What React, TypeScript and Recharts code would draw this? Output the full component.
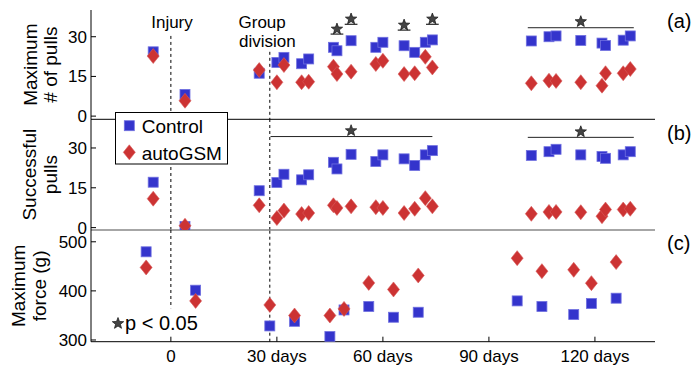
import { ReferenceLine, Scatter, ScatterChart, XAxis, YAxis } from 'recharts'

const BLUE = '#3434cc'
const RED = '#cc3333'
const FONT = '"Liberation Sans", Arial, Helvetica, sans-serif'

// sessions of reaching (panels a and b), days from injury
const pullDays = [-5, 4, 25, 30, 32, 37, 39, 46, 47, 51, 58, 60, 66, 69, 72, 74, 102, 107, 109, 116, 122, 123, 128, 130]
const controlMaxPulls = [24.3, 8.2, 16.2, 20.3, 22.2, 19.8, 21.6, 26.0, 24.7, 28.5, 26.0, 27.9, 26.6, 24.1, 27.9, 28.8, 28.4, 30.0, 30.3, 28.6, 27.6, 26.7, 28.7, 30.3]
const gsmMaxPulls = [22.7, 5.8, 17.4, 12.8, 19.3, 12.8, 13.0, 18.7, 15.9, 16.8, 19.7, 20.9, 15.9, 16.2, 22.4, 18.4, 12.4, 13.4, 13.3, 12.8, 11.5, 16.2, 16.2, 17.8]
const controlSuccess = [17.1, 0.4, 13.9, 17.0, 20.1, 18.0, 19.9, 24.6, 22.1, 27.6, 24.9, 27.4, 25.9, 23.4, 27.4, 29.0, 27.2, 28.6, 29.5, 27.4, 26.8, 26.1, 27.4, 28.6]
const gsmSuccess = [10.9, 0.7, 8.4, 3.6, 6.4, 5.1, 5.5, 8.4, 7.4, 8.0, 7.7, 7.4, 5.5, 7.1, 11.1, 8.0, 5.2, 5.9, 5.9, 5.8, 4.3, 6.8, 6.8, 7.1]

// force sessions (panel c)
const forceDays = [-7, 7, 28, 35, 45, 49, 56, 63, 70, 98, 105, 114, 119, 126]
const controlForce = [479.6, 401.4, 328.6, 338, 307, 361.2, 368.2, 346.3, 356.5, 379.6, 368.2, 351.8, 374.3, 385.1]
const gsmForce = [447.8, 379.6, 371.4, 349.8, 349.8, 363.3, 416.3, 402.9, 431.4, 466.7, 440.2, 442.9, 415.7, 458.6]

const dayTicks = [0, 30, 60, 90, 120]
const pullTicks = [0, 15, 30]
const forceTicks = [300, 400, 500]

// p < 0.05 markers
const sigDaysA = [47, 51, 66, 74]
const sigStarA = [32.9, 36.7, 34.4, 36.7]
const sigBarA = [31.0, 34.7, 32.5, 34.7]
const spansA = [{ from: 101, to: 131, y: 33.4, star: 116, starY: 35.7 }]
const spansB = [
  { from: 28.2, to: 74, y: 34.3, star: 51, starY: 36.5 },
  { from: 101, to: 131, y: 34.0, star: 116, starY: 36.1 },
]

const X_DOMAIN = [-22.6, 137]

const toPts = (xs: number[], ys: number[]) => xs.map((x, i) => ({ x, y: ys[i] }))

const starPoints = (cx: number, cy: number, r: number) => {
  const pts: string[] = []
  for (let i = 0; i < 10; i++) {
    const rad = i % 2 === 0 ? r : r * 0.42
    const a = -Math.PI / 2 + (i * Math.PI) / 5
    pts.push(`${cx + rad * Math.cos(a)},${cy + rad * Math.sin(a)}`)
  }
  return pts.join(' ')
}

const square = (p: any) => (
  <rect x={p.cx - 5} y={p.cy - 5} width={10} height={10} fill={BLUE} stroke="#7070e0" strokeWidth={0.8} />
)
const diamond = (p: any) => (
  <polygon
    points={`${p.cx},${p.cy - 7.5} ${p.cx + 6},${p.cy} ${p.cx},${p.cy + 7.5} ${p.cx - 6},${p.cy}`}
    fill={RED}
    stroke="#d85a5a"
    strokeWidth={0.6}
  />
)
const star = (p: any) => <polygon points={starPoints(p.cx, p.cy, 6)} fill="#444" stroke="#111" strokeWidth={0.7} />

function AxisTitle({ viewBox, lines, xs }: { viewBox?: any; lines: string[]; xs: number[] }) {
  const cy = viewBox ? viewBox.y + viewBox.height / 2 : 60
  return (
    <g>
      {lines.map((t, i) => (
        <text key={t} transform={`translate(${xs[i]},${cy}) rotate(-90)`} textAnchor="middle" fontSize={19} fill="#000">
          {t}
        </text>
      ))}
    </g>
  )
}

const yAxisCommon = {
  type: 'number' as const,
  dataKey: 'y',
  allowDataOverflow: true,
  width: 50,
  tickSize: -5,
  tickMargin: 9,
  interval: 0 as const,
  tick: { fontSize: 17, fill: '#000' },
  axisLine: { stroke: '#000' },
  tickLine: { stroke: '#000' },
}

const dashed = { stroke: '#000', strokeDasharray: '3 3', strokeWidth: 1 }

export default function App() {
  const margin = { right: 44, left: 41 }
  return (
    <div style={{ position: 'absolute', left: 0, top: 0, width: 699, height: 371, background: '#fff', fontFamily: FONT }}>
      {/* (a) maximum number of pulls */}
      <div style={{ position: 'absolute', left: 0, top: 0 }}>
        <ScatterChart width={699} height={130} margin={{ ...margin, top: 10, bottom: 9.7 }}>
          <XAxis type="number" dataKey="x" domain={X_DOMAIN} allowDataOverflow height={1} tick={false} tickLine={false} axisLine={{ stroke: '#000' }} />
          <YAxis
            {...yAxisCommon}
            domain={[-1.2, 40.1]}
            ticks={pullTicks}
            label={{ content: (pr: any) => <AxisTitle viewBox={pr.viewBox} lines={['Maximum', '# of pulls']} xs={[36.5, 57]} /> }}
          />
          <ReferenceLine segment={[{ x: 0, y: 30.3 }, { x: 0, y: -1.2 }]} {...dashed} />
          <ReferenceLine segment={[{ x: 28, y: 24.3 }, { x: 28, y: -1.2 }]} {...dashed} />
          {sigDaysA.map((d, i) => (
            <ReferenceLine key={d} segment={[{ x: d - 1.8, y: sigBarA[i] }, { x: d + 1.8, y: sigBarA[i] }]} stroke="#222" strokeWidth={1.2} />
          ))}
          {spansA.map((s) => (
            <ReferenceLine key={s.from} segment={[{ x: s.from, y: s.y }, { x: s.to, y: s.y }]} stroke="#222" strokeWidth={1} />
          ))}
          <Scatter data={toPts(pullDays, controlMaxPulls)} shape={square} isAnimationActive={false} />
          <Scatter data={toPts(pullDays, gsmMaxPulls)} shape={diamond} isAnimationActive={false} />
          <Scatter
            data={[...toPts(sigDaysA, sigStarA), ...spansA.map((s) => ({ x: s.star, y: s.starY }))]}
            shape={star}
            isAnimationActive={false}
          />
        </ScatterChart>
      </div>

      {/* (b) successful pulls */}
      <div style={{ position: 'absolute', left: 0, top: 110 }}>
        <ScatterChart width={699} height={131} margin={{ ...margin, top: 9.3, bottom: 10 }}>
          <XAxis type="number" dataKey="x" domain={X_DOMAIN} allowDataOverflow height={1} tick={false} tickLine={false} axisLine={{ stroke: '#888', strokeWidth: 1.5 }} />
          <YAxis
            {...yAxisCommon}
            domain={[-0.9, 40.8]}
            ticks={pullTicks}
            label={{ content: (pr: any) => <AxisTitle viewBox={pr.viewBox} lines={['Successful', 'pulls']} xs={[35.5, 56.5]} /> }}
          />
          <ReferenceLine x={0} {...dashed} />
          <ReferenceLine x={28} {...dashed} />
          {spansB.map((s) => (
            <ReferenceLine key={s.from} segment={[{ x: s.from, y: s.y }, { x: s.to, y: s.y }]} stroke="#222" strokeWidth={1} />
          ))}
          <Scatter data={toPts(pullDays, controlSuccess)} shape={square} isAnimationActive={false} />
          <Scatter data={toPts(pullDays, gsmSuccess)} shape={diamond} isAnimationActive={false} />
          <Scatter data={spansB.map((s) => ({ x: s.star, y: s.starY }))} shape={star} isAnimationActive={false} />
        </ScatterChart>
      </div>

      {/* (c) maximum force */}
      <div style={{ position: 'absolute', left: 0, top: 220 }}>
        <ScatterChart width={699} height={151} margin={{ ...margin, top: 10, bottom: 0 }}>
          <XAxis
            type="number"
            dataKey="x"
            domain={X_DOMAIN}
            allowDataOverflow
            height={29.3}
            ticks={dayTicks}
            interval={0}
            tickSize={-5}
            tickMargin={13}
            tick={{ fontSize: 17, fill: '#000' }}
            tickFormatter={(v: number) => (v === 0 ? '0' : `${v} days`)}
            axisLine={{ stroke: '#000' }}
            tickLine={{ stroke: '#000' }}
          />
          <YAxis
            {...yAxisCommon}
            domain={[296.5, 524]}
            ticks={forceTicks}
            label={{ content: (pr: any) => <AxisTitle viewBox={pr.viewBox} lines={['Maximum', 'force (g)']} xs={[24.5, 46]} /> }}
          />
          <ReferenceLine segment={[{ x: 0, y: 524 }, { x: 0, y: 364.7 }]} {...dashed} />
          <ReferenceLine x={28} {...dashed} />
          <Scatter data={toPts(forceDays, controlForce)} shape={square} isAnimationActive={false} />
          <Scatter data={toPts(forceDays, gsmForce)} shape={diamond} isAnimationActive={false} />
        </ScatterChart>
      </div>

      {/* annotations, legend and panel letters */}
      <svg width={699} height={371} style={{ position: 'absolute', left: 0, top: 0, pointerEvents: 'none' }}>
        <text x={172} y={28} textAnchor="middle" fontSize={17}>Injury</text>
        <text x={238.5} y={27.5} fontSize={17}>Group</text>
        <text x={239} y={47} fontSize={17}>division</text>
        <text x={667} y={28} fontSize={20}>(a)</text>
        <text x={667} y={140} fontSize={20}>(b)</text>
        <text x={667} y={250} fontSize={20}>(c)</text>

        <rect x={115.5} y={112.5} width={112} height={51.5} fill="#fff" stroke="#000" strokeWidth={1} />
        <rect x={124.3} y={120.7} width={10} height={10} fill={BLUE} stroke="#7070e0" strokeWidth={0.8} />
        <text x={141.7} y={133} fontSize={19}>Control</text>
        <polygon points="129.3,144.8 135.3,152.3 129.3,159.8 123.3,152.3" fill={RED} stroke="#d85a5a" strokeWidth={0.6} />
        <text x={141.7} y={159.5} fontSize={19}>autoGSM</text>

        <polygon points={starPoints(118, 323.5, 6)} fill="#444" stroke="#111" strokeWidth={0.7} />
        <text x={125} y={330} fontSize={20}>p &lt; 0.05</text>
      </svg>
    </div>
  )
}
